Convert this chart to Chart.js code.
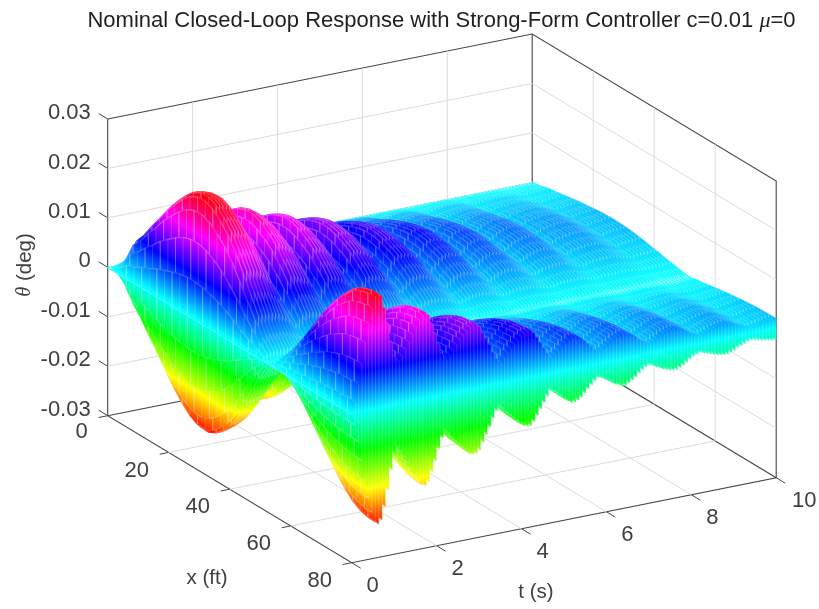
<!DOCTYPE html>
<html>
<head>
<meta charset="utf-8">
<script src="https://cdn.jsdelivr.net/npm/chart.js@4"></script>
<style>
  body { margin: 0; background: #fff; }
  canvas { display: block; }
</style>
</head>
<body>
<canvas id="chart" width="819" height="609"></canvas>
<script>
// Valores
const xTicks = [0, 20, 40, 60, 80];
const tTicks = [0, 2, 4, 6, 8, 10];
const zTicks = [-0.03, -0.02, -0.01, 0, 0.01, 0.02, 0.03];
const zTickLabels = ['-0.03', '-0.02', '-0.01', '0', '0.01', '0.02', '0.03'];

// Estaciones a lo largo de x (ft) y forma de la deformacion (deg)
const xStations = [0, 2.5, 5, 7.5, 10, 12.5, 15, 17.5, 20, 22.5, 25, 27.5, 30, 32.5, 35, 37.5, 40,
  42.5, 45, 47.5, 50, 52.5, 55, 57.5, 60, 62.5, 65, 67.5, 70, 72.5, 75, 77.5, 80];
const shapeAtX = [0, 0.0022, 0.0068, 0.0090, 0.0118, 0.0143, 0.0170, 0.0192, 0.0212, 0.0228, 0.0237,
  0.0238, 0.0230, 0.0215, 0.0195, 0.0168, 0.0135, 0.0100, 0.0065, 0.0035, 0.0012, -0.0012, -0.0040,
  -0.0070, -0.0100, -0.0130, -0.0156, -0.0180, -0.0200, -0.0216, -0.0226, -0.0231, -0.0232];

// Envolvente en el tiempo, una fila cada 0.08 s
const tStep = 0.08;
const nodeX = 51;
// x < nodeX (joroba del fondo)
const envelopeBack = [
  0, 0.30, 0.62, 0.86, 0.97, 1.0, 1.0, 0.99, 0.98, 0.96,
  0.90, 0.85, 0.78, 0.66, 0.52, 0.50, 0.62, 0.72, 0.78, 0.78,
  0.76, 0.74, 0.71, 0.67, 0.60, 0.48, 0.42, 0.50, 0.60, 0.66,
  0.66, 0.65, 0.63, 0.60, 0.56, 0.50, 0.40, 0.34, 0.38, 0.48,
  0.54, 0.55, 0.55, 0.54, 0.52, 0.49, 0.46, 0.40, 0.32, 0.26,
  0.25, 0.30, 0.36, 0.40, 0.42, 0.42, 0.42, 0.41, 0.39, 0.36,
  0.32, 0.26, 0.21, 0.19, 0.22, 0.26, 0.30, 0.32, 0.33, 0.33,
  0.32, 0.31, 0.29, 0.25, 0.20, 0.16, 0.15, 0.17, 0.20, 0.23,
  0.24, 0.25, 0.25, 0.24, 0.23, 0.21, 0.18, 0.15, 0.12, 0.11,
  0.12, 0.14, 0.16, 0.17, 0.18, 0.19, 0.19, 0.19, 0.18, 0.17,
  0.14, 0.12, 0.10, 0.09, 0.10, 0.12, 0.12, 0.13, 0.13, 0.14,
  0.14, 0.14, 0.14, 0.13, 0.12, 0.10, 0.09, 0.08, 0.07, 0.08,
  0.085, 0.09, 0.09, 0.095, 0.10, 0.10
];
// x > nodeX (extremo delantero)
const envelopeFront = [
  0, 0.10, 0.25, 0.42, 0.60, 0.76, 0.89, 0.98, 1.0, 0.97, 0.86, 0.72, 0.55, 0.42,
  0.38, 0.42, 0.47, 0.53, 0.59, 0.65, 0.70, 0.74, 0.75, 0.72, 0.64, 0.55, 0.45, 0.36,
  0.31, 0.34, 0.38, 0.42, 0.46, 0.49, 0.52, 0.55, 0.56, 0.56, 0.53, 0.47, 0.41, 0.35, 0.28, 0.22,
  0.19, 0.22, 0.26, 0.29, 0.32, 0.35, 0.38, 0.40, 0.41, 0.41, 0.38, 0.33, 0.28, 0.23, 0.18,
  0.14, 0.16, 0.18, 0.21, 0.24, 0.26, 0.28, 0.28, 0.27, 0.25, 0.22, 0.19, 0.16, 0.13,
  0.11, 0.12, 0.14, 0.16, 0.18, 0.20, 0.21, 0.225, 0.225, 0.21, 0.19, 0.17, 0.14, 0.12, 0.10,
  0.09, 0.10, 0.12, 0.13, 0.15, 0.16, 0.17, 0.175, 0.175, 0.165, 0.15, 0.13, 0.11, 0.09, 0.08,
  0.07, 0.08, 0.09, 0.10, 0.11, 0.12, 0.125, 0.13, 0.13, 0.12, 0.11, 0.09, 0.08, 0.07, 0.055,
  0.05, 0.055, 0.06, 0.07, 0.075, 0.08, 0.085, 0.09
];

// Proyeccion ortografica de la vista 3D
const corner = { px: 107.7, py: 415.7 };
const xVec = { px: 244, py: 147 };     // de x=0 a x=80
const tVec = { px: 424.5, py: -85 };   // de t=0 a t=10
const zSpan = 296.7;                   // de -0.03 a 0.03
const xMax = 80, tMax = 10, zMin = -0.03, zMax = 0.03;
const colorLimit = 0.024;

function project(x, t, z) {
  return {
    x: corner.px + xVec.px * x / xMax + tVec.px * t / tMax,
    y: corner.py + xVec.py * x / xMax + tVec.py * t / tMax - zSpan * (z - zMin) / (zMax - zMin)
  };
}

const canvas = document.getElementById('chart');
const ctx2d = canvas.getContext('2d');

// Colormap hsv de arriba (z alto) hacia abajo, el gradiente sigue las lineas de z constante
const hsvStops = ['#ff0000', '#ff00ff', '#0000ff', '#00ffff', '#00ff00', '#ffff00', '#ff0000'];
const rowStops = ['#ff2a2a', '#ff30ff', '#2626ff', '#20ffff', '#2aff2a', '#ffff30', '#ff2a2a'];
const paleStops = ['#ff7a7a', '#ff80ff', '#6a6aff', '#80ffff', '#70ff70', '#ffff80', '#ff7a7a'];

function zGradient(t, stops) {
  const a = project(0, t, colorLimit);
  const b = project(0, t, -colorLimit);
  const len = Math.hypot(xVec.px, xVec.py);
  const nx = -xVec.py / len, ny = xVec.px / len;
  const dist = (b.x - a.x) * nx + (b.y - a.y) * ny;
  const g = ctx2d.createLinearGradient(a.x, a.y, a.x + nx * dist, a.y + ny * dist);
  stops.forEach((c, i) => g.addColorStop(i / (stops.length - 1), c));
  return g;
}

const datasets = [];

// Superficie: la primera fila (t=0) queda delante de todas
envelopeFront.forEach((ampFront, i) => {
  const t = i * tStep;
  const ampBack = envelopeBack[i];
  const zAt = k => shapeAtX[k] * (xStations[k] < nodeX ? ampBack : ampFront);
  const upper = xStations.map((x, k) => project(x, t, zAt(k)));
  const lower = xStations.map((x, k) => project(x, t, -zAt(k)));
  const zigzag = [];
  xStations.forEach((x, k) => {
    if (k % 2 === 0) zigzag.push(upper[k], lower[k]);
    else zigzag.push(lower[k], upper[k]);
  });
  const fillGrad = zGradient(t, hsvStops);
  const rowGrad = zGradient(t, rowStops);
  const paleGrad = zGradient(t, paleStops);
  datasets.push({ data: zigzag, borderColor: paleGrad, borderWidth: 0.4, fill: false });
  datasets.push({ data: upper, borderColor: rowGrad, backgroundColor: fillGrad, borderWidth: 1.4, fill: { target: '+1' } });
  datasets.push({ data: lower, borderColor: rowGrad, borderWidth: 1.4, fill: false });
});

function addLine(points, color, width) {
  datasets.push({ data: points, borderColor: color, borderWidth: width, fill: false });
}

// Caja y rejilla, detras de la superficie
const gridColor = '#dcdcdc', boxColor = '#454545';
xTicks.slice(1, -1).forEach(x => {
  addLine([project(x, 0, zMin), project(x, tMax, zMin), project(x, tMax, zMax)], gridColor, 1);
});
tTicks.slice(1, -1).forEach(t => {
  addLine([project(xMax, t, zMin), project(0, t, zMin), project(0, t, zMax)], gridColor, 1);
});
zTicks.slice(1, -1).forEach(z => {
  addLine([project(0, 0, z), project(0, tMax, z), project(xMax, tMax, z)], gridColor, 1);
});
addLine([project(0, 0, zMax), project(0, tMax, zMax), project(xMax, tMax, zMax), project(xMax, tMax, zMin),
  project(xMax, 0, zMin), project(0, 0, zMin), project(0, 0, zMax)], boxColor, 1.1);
addLine([project(0, 0, zMin), project(0, tMax, zMin), project(xMax, tMax, zMin)], boxColor, 1.1);
addLine([project(0, tMax, zMin), project(0, tMax, zMax)], boxColor, 1.1);

// Marcas de los ejes
zTicks.forEach(z => {
  const p = project(0, 0, z);
  addLine([p, { x: p.x - 9, y: p.y - 5.5 }], boxColor, 1);
});
xTicks.forEach(x => {
  const p = project(x, 0, zMin);
  addLine([p, { x: p.x - 9, y: p.y + 1.8 }], boxColor, 1);
});
tTicks.forEach(t => {
  const p = project(xMax, t, zMin);
  addLine([p, { x: p.x + 9, y: p.y + 5.5 }], boxColor, 1);
});

// Textos de ejes y titulo
const axisText = {
  id: 'axisText',
  afterDraw(chart) {
    const ctx = chart.ctx;
    const sx = chart.scales.x, sy = chart.scales.y;
    const tickFont = '22px "Liberation Sans"';
    const textAt = (p, dx, dy, s, align) => {
      ctx.textAlign = align;
      ctx.fillText(s, sx.getPixelForValue(p.x) + dx, sy.getPixelForValue(p.y) + dy);
    };
    ctx.save();
    ctx.textBaseline = 'middle';
    ctx.fillStyle = '#404040';
    ctx.font = tickFont;
    zTicks.forEach((z, i) => textAt(project(0, 0, z), -17, -6, zTickLabels[i], 'right'));
    xTicks.forEach(x => textAt(project(x, 0, zMin), x === 0 ? -26 : -32, x === 0 ? 16 : 18, String(x), 'center'));
    tTicks.forEach(t => textAt(project(xMax, t, zMin), t === 10 ? 28 : 21, 23, String(t), 'center'));

    ctx.font = '20.5px "Liberation Sans"';
    ctx.textAlign = 'center';
    ctx.fillText('x (ft)', 207, 578);
    ctx.fillText('t (s)', 536, 592);

    ctx.save();
    ctx.translate(25, 265);
    ctx.rotate(-Math.PI / 2);
    ctx.textAlign = 'left';
    const rest = ' (deg)';
    ctx.font = 'italic 20.5px "Liberation Serif"';
    const thetaW = ctx.measureText('\u03b8').width;
    ctx.font = '20.5px "Liberation Sans"';
    const restW = ctx.measureText(rest).width;
    ctx.fillText(rest, -(thetaW + restW) / 2 + thetaW, 0);
    ctx.font = 'italic 20.5px "Liberation Serif"';
    ctx.fillText('\u03b8', -(thetaW + restW) / 2, 0);
    ctx.restore();

    // Titulo con mu en cursiva
    const titleFont = '22px "Liberation Sans"', muFont = 'italic 22px "Liberation Serif"';
    const parts = [['Nominal Closed-Loop Response with Strong-Form Controller c=0.01 ', titleFont], ['\u03bc', muFont], ['=0', titleFont]];
    ctx.fillStyle = '#1f1f1f';
    ctx.textAlign = 'left';
    let total = 0;
    parts.forEach(p => { ctx.font = p[1]; total += ctx.measureText(p[0]).width; });
    let cx = 441.5 - total / 2;
    parts.forEach(p => { ctx.font = p[1]; ctx.fillText(p[0], cx, 21); cx += ctx.measureText(p[0]).width; });
    ctx.restore();
  }
};

new Chart(canvas, {
  type: 'scatter',
  data: { datasets: datasets.map(d => Object.assign({ showLine: true, pointRadius: 0 }, d)) },
  options: {
    responsive: false,
    animation: false,
    events: [],
    layout: { padding: 0 },
    plugins: { legend: { display: false }, tooltip: { enabled: false } },
    scales: {
      x: { type: 'linear', display: false, min: 0, max: 819 },
      y: { type: 'linear', display: false, min: 0, max: 609, reverse: true }
    }
  },
  plugins: [axisText]
});
</script>
</body>
</html>
